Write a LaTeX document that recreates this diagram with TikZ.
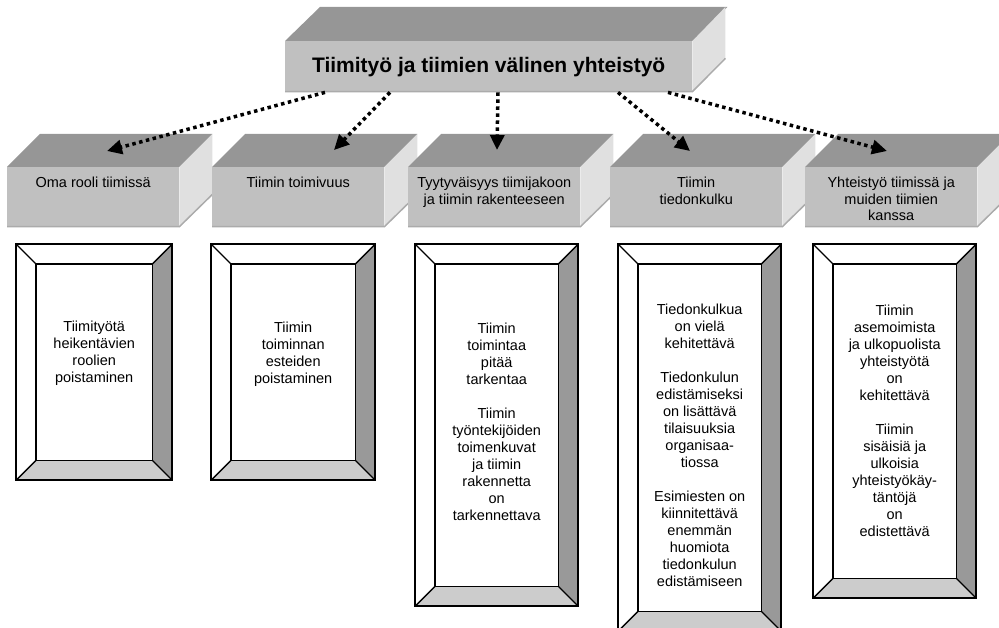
\documentclass[tikz,border=0pt]{standalone}
\usepackage{fontspec}
\setmainfont{Liberation Sans}
\usetikzlibrary{positioning,arrows.meta}
\definecolor{topgray}{HTML}{969696}
\definecolor{frontgray}{HTML}{C0C0C0}
\definecolor{sidegray}{HTML}{E0E0E0}
\definecolor{rimgray}{HTML}{ABABAB}
\definecolor{bevdark}{HTML}{999999}
\definecolor{bevlight}{HTML}{CCCCCC}
\tikzstyle{front}=[fill=frontgray,anchor=north west,inner sep=0pt,minimum width=172pt,minimum height=60pt]
\tikzstyle{topface}=[fill=topgray]
\tikzstyle{sideface}=[fill=sidegray]
\tikzstyle{rim}=[draw=rimgray,line width=1.5pt]
\tikzstyle{cattext}=[align=center,font=\fontsize{14.5}{16.5}\selectfont,inner sep=0pt]
\tikzstyle{frame}=[fill=white,anchor=north west,inner sep=0pt]
\tikzstyle{frametext}=[align=center,font=\fontsize{14.5}{17}\selectfont,inner sep=0pt]
\tikzstyle{dots}=[line width=3.5pt,dash pattern=on 3.5pt off 3.5pt,-{Triangle[length=15pt,width=14pt]}]

\begin{document}
\begin{tikzpicture}[x=1pt,y=-1pt]
\useasboundingbox (0,0) rectangle (999,628);

% main box
\node[front,minimum width=407pt,minimum height=51pt,font=\bfseries\fontsize{21}{24}\selectfont] (top) at (285,41) {Tiimityö ja tiimien välinen yhteistyö};
\fill[topface] (top.north west) -- ++(35,-34) -- ([shift={(35,-34)}]top.north east) -- (top.north east) -- cycle;
\fill[sideface] (top.north east) -- ++(33,-34) -- ([shift={(33,-34)}]top.south east) -- (top.south east) -- cycle;
\draw[rim] ([yshift=0.75pt]top.south west) -- ([yshift=0.75pt]top.south east) -- ([shift={(33,-34)}]top.south east);

% category boxes
\foreach \n/\x/\txt in {c1/7/{Oma rooli tiimissä},c2/212/{Tiimin toimivuus},
  c3/408/{Tyytyväisyys tiimijakoon\\ja tiimin rakenteeseen},c4/610/{Tiimin\\tiedonkulku},
  c5/805/{Yhteistyö tiimissä ja\\muiden tiimien\\kanssa}}{
  \node[front] (\n) at (\x,167) {};
  \fill[topface] (\n.north west) -- ++(33,-33) -- ([shift={(33,-33)}]\n.north east) -- (\n.north east) -- cycle;
  \fill[sideface] (\n.north east) -- ++(33,-33) -- ([shift={(33,-33)}]\n.south east) -- (\n.south east) -- cycle;
  \draw[rim] ([yshift=0.75pt]\n.south west) -- ([yshift=0.75pt]\n.south east) -- ([shift={(33,-33)}]\n.south east);
  \node[cattext,below=10pt of \n.north] (\n l) {\txt};
}

% frames
\foreach \n/\x/\w/\h/\dy/\txt in {f1/16/156/236/9/{Tiimityötä\\heikentävien\\roolien\\poistaminen},
  f2/211/164/236/8/{Tiimin\\toiminnan\\esteiden\\poistaminen},
  f3/415/163/362/3/{Tiimin\\toimintaa\\pitää\\tarkentaa\\[17pt]Tiimin\\työntekijöiden\\toimenkuvat\\ja tiimin\\rakennetta\\on\\tarkennettava},
  f4/618/163/387/-8/{Tiedonkulkua\\on vielä\\kehitettävä\\[17pt]Tiedonkulun\\edistämiseksi\\on lisättävä\\tilaisuuksia\\organisaa-\\tiossa\\[17pt]Esimiesten on\\kiinnitettävä\\enemmän\\huomiota\\tiedonkulun\\edistämiseen},
  f5/813/163/354/0/{Tiimin\\asemoimista\\ja ulkopuolista\\yhteistyötä\\on\\kehitettävä\\[17pt]Tiimin\\sisäisiä ja\\ulkoisia\\yhteistyökäy-\\täntöjä\\on\\edistettävä}}{
  \node[frame,minimum width=\w pt,minimum height=\h pt] (\n) at (\x,244) {};
  \fill[bevdark] (\n.north east) -- (\n.south east) -- ([shift={(-20,-20)}]\n.south east) -- ([shift={(-20,20)}]\n.north east) -- cycle;
  \fill[bevlight] (\n.south west) -- (\n.south east) -- ([shift={(-20,-20)}]\n.south east) -- ([shift={(20,-20)}]\n.south west) -- cycle;
  \draw[line width=2pt] (\n.north west) rectangle (\n.south east);
  \draw[line width=1.5pt] ([shift={(20,20)}]\n.north west) rectangle ([shift={(-20,-20)}]\n.south east);
  \draw[line width=1.3pt] (\n.north west) -- ++(20,20) (\n.north east) -- ++(-20,20)
    (\n.south west) -- ++(20,-20) (\n.south east) -- ++(-20,-20);
  \node[frametext] (\n t) at ([yshift=\dy pt]\n.center) {\txt};
}

% arrows
\draw[dots] ([xshift=40pt]top.south west) -- ([shift={(100,-16)}]c1.north west);
\draw[dots] ([xshift=105pt]top.south west) -- ([shift={(122,-17)}]c2.north west);
\draw[dots] ([xshift=213pt]top.south west) -- ([shift={(89,-17)}]c3.north west);
\draw[dots] ([xshift=333pt]top.south west) -- ([shift={(80,-16)}]c4.north west);
\draw[dots] ([xshift=383pt]top.south west) -- ([shift={(82,-16)}]c5.north west);

\end{tikzpicture}
\end{document}
